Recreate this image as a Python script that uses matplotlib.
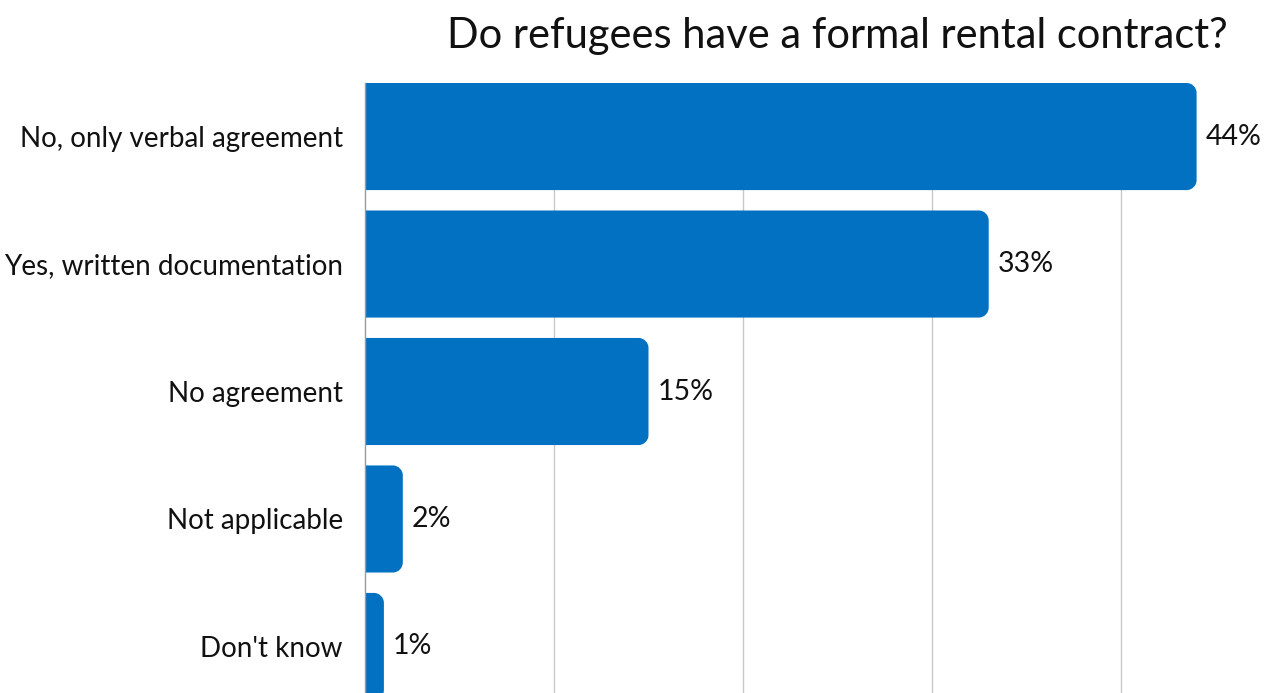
import matplotlib
matplotlib.use("Agg")
import matplotlib.pyplot as plt
from matplotlib.path import Path
from matplotlib.patches import PathPatch

categories = ["No, only verbal agreement", "Yes, written documentation",
              "No agreement", "Not applicable", "Don't know"]
values = [44, 33, 15, 2, 1]
value_labels = ["44%", "33%", "15%", "2%", "1%"]
title = "Do refugees have a formal rental contract?"

BAR_COLOR = "#0271C2"
W, H = 1270, 693
DPI = 100

plt.rcParams["font.family"] = ["Lato", "DejaVu Sans"]

fig = plt.figure(figsize=(W / DPI, H / DPI), dpi=DPI)
fig.patch.set_facecolor("white")

# axes placed in pixel terms; x extends beyond the right edge (0..50%)
left_px, right_px, top_px, bot_px = 365, 365 + 189 * 5, 83, 693
ax = fig.add_axes([left_px / W, 1 - bot_px / H, (right_px - left_px) / W,
                   (bot_px - top_px) / H])
bar_h = 0.84
ax.set_xlim(0, 50)
ax.set_ylim(4.365, -bar_h / 2)

# scale of one data unit in pixels, used for round corners
px_per_x = (right_px - left_px) / 50.0
px_per_y = (bot_px - top_px) / (4.365 + bar_h / 2)
radius_px = 10
k = 0.5523


def rounded_bar(y, width):
    x0, x1 = 0.0, width
    y0, y1 = y - bar_h / 2, y + bar_h / 2
    rx = min(radius_px / px_per_x, width)
    ry = radius_px / px_per_y
    verts = [
        (x0, y0),
        (x1 - rx, y0),
        (x1 - rx + k * rx, y0), (x1, y0 + ry - k * ry), (x1, y0 + ry),
        (x1, y1 - ry),
        (x1, y1 - ry + k * ry), (x1 - rx + k * rx, y1), (x1 - rx, y1),
        (x0, y1),
        (x0, y0),
    ]
    codes = [Path.MOVETO, Path.LINETO,
             Path.CURVE4, Path.CURVE4, Path.CURVE4,
             Path.LINETO,
             Path.CURVE4, Path.CURVE4, Path.CURVE4,
             Path.LINETO, Path.CLOSEPOLY]
    return PathPatch(Path(verts, codes), facecolor=BAR_COLOR, edgecolor="none",
                     zorder=3)


for i, (v, lab) in enumerate(zip(values, value_labels)):
    ax.add_patch(rounded_bar(i, v))
    ax.text(v + 9 / px_per_x, i, lab, va="center", ha="left",
            fontsize=20.5, color="#111111")

ax.set_yticks(range(len(categories)))
ax.set_yticklabels(categories, fontsize=20, color="#111111")
ax.tick_params(axis="y", length=0, pad=16)
ax.tick_params(axis="x", length=0, labelbottom=False)
ax.set_xticks([10, 20, 30, 40])
ax.grid(axis="x", color="#c8c8c8", linewidth=1, zorder=0)
ax.set_axisbelow(True)
for s in ["top", "right", "bottom"]:
    ax.spines[s].set_visible(False)
ax.spines["left"].set_color("#9a9a9a")
ax.spines["left"].set_linewidth(1)
ax.spines["left"].set_zorder(4)

fig.text(837 / W, 1 - 48 / H, title, ha="center", va="baseline",
         fontsize=30, color="#111111")

fig.savefig("out.png", dpi=DPI, facecolor="white")
